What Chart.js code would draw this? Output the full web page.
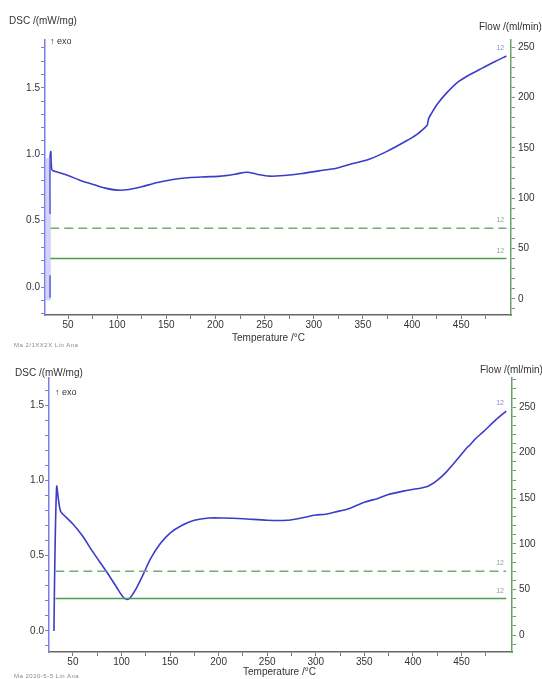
<!DOCTYPE html>
<html>
<head>
<meta charset="utf-8">
<script src="https://cdn.jsdelivr.net/npm/chart.js@4/dist/chart.umd.min.js"></script>
<style>
  html, body { margin: 0; padding: 0; background: #fff; overflow: hidden; }
  body { width: 542px; height: 679px; position: relative; font-family: "Liberation Sans", Arial, sans-serif; color: #333; }
  .box { position: absolute; left: 0; width: 542px; }
  .lbl { position: absolute; font-size: 10px; white-space: nowrap; line-height: 12px; }
  .tiny { position: absolute; font-size: 6px; color: #888; white-space: nowrap; letter-spacing: 0.5px; }
</style>
</head>
<body>
<div class="box" style="top:0;height:340px"><canvas id="top" width="542" height="340"></canvas></div>
<div class="box" style="top:340px;height:339px"><canvas id="bottom" width="542" height="339"></canvas></div>

<div class="lbl" style="left:9px;top:15px">DSC /(mW/mg)</div>
<div class="lbl" style="left:50px;top:35px;font-size:9px">↑ exo</div>
<div class="lbl" style="left:479px;top:21px">Flow /(ml/min)</div>
<div class="lbl" style="left:232px;top:332px">Temperature /°C</div>
<div class="tiny" style="left:14px;top:342px">Ma  2/1XX2X  Lin Ana</div>

<div class="lbl" style="left:15px;top:367px">DSC /(mW/mg)</div>
<div class="lbl" style="left:55px;top:386px;font-size:9px">↑ exo</div>
<div class="lbl" style="left:480px;top:364px">Flow /(ml/min)</div>
<div class="lbl" style="left:243px;top:666px">Temperature /°C</div>
<div class="tiny" style="left:14px;top:673px">Ma  2020-5-5  Lin Ana</div>

<script>
// top run
const tempTop = [31.7, 31.7, 31.7, 31.7, 31.7, 32.5, 33, 34, 40, 50, 62, 75, 88, 100, 112, 125, 137, 150, 162, 175, 190, 205, 220, 232, 242, 255, 270, 288, 305, 323, 340, 357, 374, 394, 405, 413, 415.5, 417, 420, 426, 435, 446, 459, 472, 485, 496];
const dscTop = [-0.08, 0.09, null, 0.55, 0.97, 1.02, 0.92, 0.88, 0.865, 0.84, 0.805, 0.775, 0.745, 0.73, 0.735, 0.755, 0.78, 0.80, 0.815, 0.825, 0.83, 0.835, 0.85, 0.865, 0.85, 0.835, 0.84, 0.855, 0.875, 0.895, 0.93, 0.965, 1.02, 1.10, 1.15, 1.2, 1.22, 1.27, 1.31, 1.38, 1.46, 1.54, 1.60, 1.65, 1.70, 1.74];
const bandTopTemp = [30, 30];
const bandTopDsc = [-0.1, 0.97];

// bottom run
const tempBottom = [30.5, 31.5, 33.3, 35, 37, 39, 50, 60, 70, 85, 95, 101, 105, 109, 115, 122, 130, 140, 150, 162, 175, 190, 205, 225, 250, 270, 285, 300, 310, 320, 333, 350, 364, 374, 395, 415, 425, 435, 447, 456, 458, 465, 472, 485, 496];
const dscBottom = [0.0, 0.5, 0.96, 0.88, 0.8, 0.78, 0.71, 0.63, 0.53, 0.39, 0.29, 0.23, 0.21, 0.22, 0.28, 0.37, 0.48, 0.58, 0.65, 0.70, 0.735, 0.75, 0.75, 0.745, 0.735, 0.735, 0.75, 0.77, 0.775, 0.79, 0.81, 0.855, 0.88, 0.905, 0.935, 0.96, 1.0, 1.06, 1.15, 1.22, 1.23, 1.28, 1.32, 1.40, 1.46];

// purge gas flows (ml/min)
const flowTemp = [32, 496];
const flowDashed = [70, 70];
const flowSolid = [40, 40];

const tempTicks = [50, 75, 100, 125, 150, 175, 200, 225, 250, 275, 300, 325, 350, 375, 400, 425, 450, 475];
const tempLabels = [50, 100, 150, 200, 250, 300, 350, 400, 450];
const dscLabels = [0.0, 0.5, 1.0, 1.5];
const flowLabels = [0, 50, 100, 150, 200, 250];

const BLUE = '#3c3cc8';
const BLUE_AXIS = '#7c7ce6';
const GREEN = '#4e9a4e';
const GREEN_DASH = '#77a877';
const GREEN_AXIS = '#6aa06a';
const FONT = { family: 'Liberation Sans', size: 10 };

const zip = (xs, ys) => xs.map((x, i) => ({ x: x, y: ys[i] }));

function range(a, b, step) {
  const out = [];
  for (let v = a; v <= b + 1e-9; v += step) out.push(Math.round(v * 100) / 100);
  return out;
}

const endLabels = {
  id: 'endLabels',
  afterDatasetsDraw(chart) {
    const ctx = chart.ctx;
    ctx.save();
    ctx.font = '7px "Liberation Sans"';
    chart.data.datasets.forEach((ds, i) => {
      if (!ds.endLabel) return;
      const last = ds.data[ds.data.length - 1];
      const xs = chart.scales.x;
      const ys = chart.scales[ds.yAxisID];
      ctx.fillStyle = ds.endLabelColor;
      ctx.fillText(ds.endLabel, xs.getPixelForValue(last.x) - 10, ys.getPixelForValue(last.y) - 6);
    });
    ctx.restore();
  }
};

function makeChart(id, cfg) {
  const h = document.getElementById(id).height;
  const datasets = [
    { data: zip(flowTemp, flowDashed), yAxisID: 'flow', borderColor: GREEN_DASH, borderWidth: 1.5, borderDash: [9, 5], endLabel: '12', endLabelColor: '#8aa88a' },
    { data: zip(flowTemp, flowSolid), yAxisID: 'flow', borderColor: GREEN, borderWidth: 1.5, endLabel: '12', endLabelColor: '#8aa88a' }
  ];
  if (cfg.band) {
    datasets.push({ data: cfg.band, yAxisID: 'dsc', borderColor: 'rgba(160,160,240,0.45)', borderWidth: 5 });
  }
  datasets.push({ data: cfg.dsc, yAxisID: 'dsc', borderColor: BLUE, borderWidth: 1.6, endLabel: '12', endLabelColor: '#8888dd' });

  return new Chart(document.getElementById(id), {
    type: 'line',
    data: { datasets: datasets },
    options: {
      responsive: false,
      animation: false,
      spanGaps: false,
      layout: { padding: { top: cfg.top, left: 0, right: 0, bottom: 0 } },
      elements: { point: { radius: 0 }, line: { tension: 0.3 } },
      plugins: { legend: { display: false }, tooltip: { enabled: false } },
      scales: {
        x: {
          type: 'linear', min: cfg.xMin, max: cfg.xMax,
          afterFit: s => { s.height = h - cfg.bottom; },
          afterBuildTicks: s => { s.ticks = tempTicks.map(v => ({ value: v })); },
          ticks: { autoSkip: false, maxRotation: 0, padding: 0, color: '#333', font: FONT,
            callback: v => tempLabels.includes(v) ? String(v) : '' },
          grid: { drawOnChartArea: false, tickLength: 4, color: '#777' },
          border: { color: '#666', width: 1.5 }
        },
        dsc: {
          type: 'linear', position: 'left', min: cfg.dMin, max: cfg.dMax,
          afterFit: s => { s.width = cfg.left; },
          afterBuildTicks: s => { s.ticks = range(-0.2, cfg.dMax, 0.1).filter(v => v >= cfg.dMin).map(v => ({ value: v })); },
          ticks: { autoSkip: false, padding: 1, color: '#333', font: FONT,
            callback: v => dscLabels.some(d => Math.abs(d - v) < 1e-6) ? v.toFixed(1) : '' },
          grid: { drawOnChartArea: false, tickLength: 4, color: BLUE_AXIS },
          border: { color: BLUE_AXIS, width: 1.5 }
        },
        flow: {
          type: 'linear', position: 'right', min: cfg.fMin, max: cfg.fMax,
          afterFit: s => { s.width = 542 - cfg.right; },
          afterBuildTicks: s => { s.ticks = range(-10, cfg.fMax, 10).filter(v => v >= cfg.fMin).map(v => ({ value: v })); },
          ticks: { autoSkip: false, padding: 3, color: '#333', font: FONT,
            callback: v => flowLabels.includes(v) ? String(v) : '' },
          grid: { drawOnChartArea: false, tickLength: 4, color: GREEN_AXIS },
          border: { color: GREEN_AXIS, width: 1.5 }
        }
      }
    },
    plugins: [endLabels]
  });
}

makeChart('top', {
  dsc: zip(tempTop, dscTop), band: zip(bandTopTemp, bandTopDsc),
  top: 40, bottom: 315, left: 45, right: 511,
  xMin: 26.6, xMax: 500.7, dMin: -0.21, dMax: 1.86, fMin: -16, fMax: 257
});

makeChart('bottom', {
  dsc: zip(tempBottom, dscBottom),
  top: 38, bottom: 312, left: 49, right: 512,
  xMin: 25.4, xMax: 502, dMin: -0.14, dMax: 1.68, fMin: -18.6, fMax: 282
});
</script>
</body>
</html>
